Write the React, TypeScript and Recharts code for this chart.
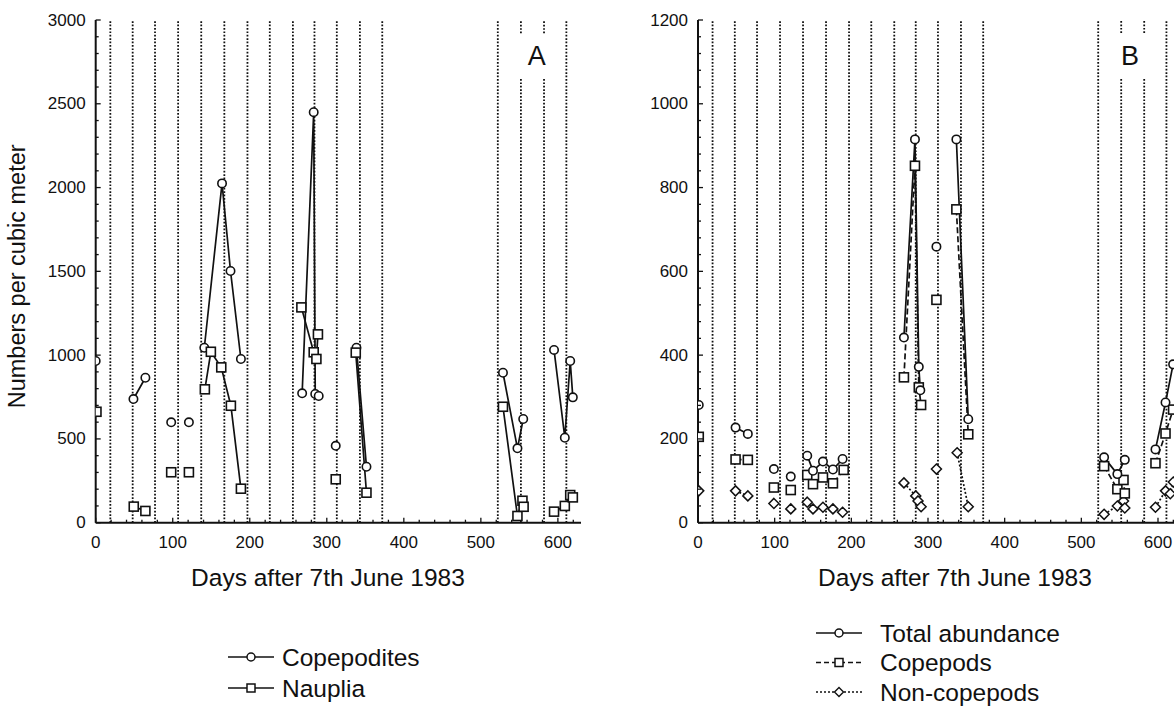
import React from 'react';
import { LineChart, Line, XAxis, YAxis, ReferenceLine, ReferenceArea, Label } from 'recharts';

// ---------- shared ----------
const samplingDays = [19, 48, 77, 107, 137, 167, 197, 226, 256, 284, 313, 343, 372, 522, 552, 582, 611];
const xLabelTicks = [0, 100, 200, 300, 400, 500, 600];
const xMinorStep = 20;
const xDomain = [0, 630];

// ---------- panel A ----------
const copepoditesDays = [0, 49, 64.5, 98, 121, 141, 164, 175, 188.5, 268, 283, 285, 289.5, 311.6, 338.5, 351.5, 528.7, 547.5, 555, 595, 609, 616, 619.4];
const copepodites = [965, 738, 865, 599, 599, 1044, 2025, 1502, 977, 772, 2450, 768, 756, 459, 1044, 334, 895, 444, 619, 1031, 507, 965, 748];
const copepoditesGroups = [0, 1, 1, 2, 3, 4, 4, 4, 4, 5, 5, 5, 5, 6, 7, 7, 8, 8, 8, 9, 9, 9, 9];

const naupliaDays = [1, 49.4, 64.5, 98, 121, 141.7, 149.5, 163, 175.5, 188.5, 267, 283, 286.5, 288.5, 311.6, 337.6, 351.5, 528.7, 547.5, 554, 555.5, 595, 609, 616, 619.4];
const nauplia = [662, 96, 70, 301, 301, 796, 1020, 927, 698, 203, 1285, 1017, 977, 1124, 259, 1015, 179, 692, 40, 131, 95, 66, 100, 165, 151];
const naupliaGroups = [0, 1, 1, 2, 3, 4, 4, 4, 4, 4, 5, 5, 5, 5, 6, 7, 7, 8, 8, 8, 8, 9, 9, 9, 9];

const yTicksA = [0, 500, 1000, 1500, 2000, 2500, 3000];
const yMinorA = 100;

// ---------- panel B ----------
const totalDays = [1, 49, 65, 99, 121, 142.5, 150, 163, 176, 188.6, 268.6, 283, 288, 290, 311, 337, 352.5, 529.7, 547, 556.7, 596.7, 609.8, 619.7];
const totalAbundance = [281, 227, 212, 128, 110, 160, 124, 146, 127, 152, 442, 915, 372, 316, 659, 915, 247, 156, 116, 150, 175, 287, 378];
const totalGroups = [0, 1, 1, 2, 3, 4, 4, 4, 4, 4, 5, 5, 5, 5, 6, 7, 7, 8, 8, 8, 9, 9, 9];

const copepodsDays = [1, 49, 65, 99, 121, 142.5, 150, 163, 176, 190, 268.6, 283, 288, 291, 311, 337, 352.5, 529.7, 547, 555, 556.7, 596.7, 609.8, 619.7];
const copepods = [205, 151, 150, 84, 78, 114, 92, 108, 94, 126, 347, 852, 323, 281, 532, 748, 211, 135, 80, 102, 70, 142, 213, 270];
const copepodsGroups = [0, 1, 1, 2, 3, 4, 4, 4, 4, 4, 5, 5, 5, 5, 6, 7, 7, 8, 8, 8, 8, 9, 9, 9];

const nonCopepodsDays = [1, 49, 65, 99, 121, 142.5, 150, 163, 176, 188.6, 268.6, 284, 287, 291, 311, 338, 352.5, 529.7, 547, 555, 556.7, 596.7, 609.8, 616, 620];
const nonCopepods = [76, 76, 64, 46, 33, 49, 33, 37, 33, 25, 95, 64, 52, 38, 128, 167, 38, 20, 40, 52, 35, 37, 76, 69, 97];
const nonCopepodsGroups = [0, 1, 1, 2, 3, 4, 4, 4, 4, 4, 5, 5, 5, 5, 6, 7, 7, 8, 8, 8, 8, 9, 9, 9, 9];

const yTicksB = [0, 200, 400, 600, 800, 1000, 1200];
const yMinorB = 40;

// ---------- helpers ----------
const FONT = '"Liberation Sans", Arial, Helvetica, sans-serif';
const INK = '#111111';
const GRID_STYLE = { stroke: '#111111', strokeWidth: 1.8, strokeDasharray: '1.7 1.7' };

function buildSeries(days: number[], values: number[], groups: number[]) {
  const out: { d: number; v: number | null }[] = [];
  for (let i = 0; i < days.length; i++) {
    if (i > 0 && groups[i] !== groups[i - 1]) {
      out.push({ d: (days[i] + days[i - 1]) / 2, v: null });
    }
    out.push({ d: days[i], v: values[i] });
  }
  return out;
}

function range(max: number, step: number) {
  const r: number[] = [];
  for (let v = 0; v <= max + 1e-9; v += step) r.push(v);
  return r;
}

const xTicks = range(620, xMinorStep);

const CircleDot = (p: any) => {
  const { cx, cy, payload, index } = p;
  if (cx == null || cy == null || payload == null || payload.v == null) return <g key={`c${index}`} />;
  return <circle key={`c${index}`} cx={cx} cy={cy} r={4.2} fill="#fff" stroke={INK} strokeWidth={1.6} />;
};
const SquareDot = (p: any) => {
  const { cx, cy, payload, index } = p;
  if (cx == null || cy == null || payload == null || payload.v == null) return <g key={`s${index}`} />;
  return <rect key={`s${index}`} x={cx - 4.5} y={cy - 4.5} width={9} height={9} fill="#fff" stroke={INK} strokeWidth={1.6} />;
};
const DiamondDot = (p: any) => {
  const { cx, cy, payload, index } = p;
  if (cx == null || cy == null || payload == null || payload.v == null) return <g key={`d${index}`} />;
  return (
    <polygon key={`d${index}`} points={`${cx},${cy - 5} ${cx + 5},${cy} ${cx},${cy + 5} ${cx - 5},${cy}`} fill="#fff" stroke={INK} strokeWidth={1.5} />
  );
};

const makeBottomTick = (labels: number[]) => (p: any) => {
  const { x, y, payload } = p;
  const major = labels.includes(payload.value);
  return (
    <g>
      <line x1={x} x2={x} y1={y} y2={y - (major ? 5 : 3)} stroke={INK} strokeWidth={1.3} />
      {major && (
        <text x={x} y={y + 20} textAnchor="middle" dominantBaseline="central" fontSize={17} fontFamily={FONT} fill={INK}>
          {payload.value}
        </text>
      )}
    </g>
  );
};
const TopTick = (p: any) => {
  const { x, y } = p;
  return <line x1={x} x2={x} y1={y} y2={y + 3} stroke={INK} strokeWidth={1.3} />;
};
const makeLeftTick = (labels: number[]) => (p: any) => {
  const { x, y, payload } = p;
  const major = labels.includes(payload.value);
  return (
    <g>
      <line x1={x} x2={x + (major ? 5 : 3)} y1={y} y2={y} stroke={INK} strokeWidth={1.3} />
      {major && (
        <text x={x - 10} y={y} textAnchor="end" dominantBaseline="central" fontSize={17} fontFamily={FONT} fill={INK}>
          {payload.value}
        </text>
      )}
    </g>
  );
};
const RightTick = (p: any) => {
  const { x, y } = p;
  return <line x1={x} x2={x - 3} y1={y} y2={y} stroke={INK} strokeWidth={1.3} />;
};

type LegendItem = { name: string; dash?: string; marker: 'circle' | 'square' | 'diamond' };

const LegendBox = ({ items, rowGap, textX, left, top }: { items: LegendItem[]; rowGap: number; textX: number; left: number; top: number }) => (
  <svg width={360} height={items.length * rowGap + 14} style={{ position: 'absolute', left, top, overflow: 'visible' }}>
    {items.map((it, i) => {
      const y = 14 + i * rowGap;
      const mx = 31;
      return (
        <g key={it.name}>
          <line x1={8} x2={54} y1={y} y2={y} stroke={INK} strokeWidth={1.6} strokeDasharray={it.dash} />
          {it.marker === 'circle' && <circle cx={mx} cy={y} r={4} fill="#fff" stroke={INK} strokeWidth={1.5} />}
          {it.marker === 'square' && <rect x={mx - 4} y={y - 4} width={8} height={8} fill="#fff" stroke={INK} strokeWidth={1.5} />}
          {it.marker === 'diamond' && (
            <polygon points={`${mx},${y - 4.5} ${mx + 4.5},${y} ${mx},${y + 4.5} ${mx - 4.5},${y}`} fill="#fff" stroke={INK} strokeWidth={1.4} />
          )}
          <text x={textX} y={y} dominantBaseline="central" fontSize={24.5} fontFamily={FONT} fill={INK}>
            {it.name}
          </text>
        </g>
      );
    })}
  </svg>
);

const CHART_W = 600;
const CHART_H = 719;
const MARGIN = { top: 20, right: 19, bottom: 166.3, left: 0 };

function Panel(props: {
  leftOffset: number;
  yMax: number;
  yLabels: number[];
  yMinor: number;
  panelLabel: string;
  labelBox: { x1: number; x2: number; y1: number; y2: number };
  series: { name: string; data: { d: number; v: number | null }[]; dash?: string; dot: any }[];
  yTitle?: string;
  xTitleCenter: number;
}) {
  const yTicks = range(props.yMax, props.yMinor);
  const lb = props.labelBox;
  return (
    <LineChart width={CHART_W} height={CHART_H} margin={{ ...MARGIN, left: props.leftOffset - 60 }}>
      <XAxis
        dataKey="d"
        type="number"
        domain={xDomain}
        ticks={xTicks}
        interval={0}
        allowDataOverflow
        tickSize={0}
        tickMargin={0}
        tickLine={false}
        tick={makeBottomTick(xLabelTicks)}
        axisLine={{ stroke: INK, strokeWidth: 2 }}
        height={30}
      >
        <Label
          content={() => (
            <text x={props.xTitleCenter} y={577} textAnchor="middle" dominantBaseline="central" fontSize={24.5} fontFamily={FONT} fill={INK}>
              Days after 7th June 1983
            </text>
          )}
        />
      </XAxis>
      <XAxis
        xAxisId="top"
        orientation="top"
        dataKey="d"
        type="number"
        domain={xDomain}
        ticks={xTicks}
        interval={0}
        allowDataOverflow
        tickSize={0}
        tickMargin={0}
        tickLine={false}
        tick={TopTick}
        axisLine={{ stroke: INK, strokeWidth: 2 }}
        height={0}
      />
      <YAxis
        type="number"
        domain={[0, props.yMax]}
        ticks={yTicks}
        interval={0}
        allowDataOverflow
        tickSize={0}
        tickMargin={0}
        tickLine={false}
        tick={makeLeftTick(props.yLabels)}
        axisLine={{ stroke: INK, strokeWidth: 2 }}
        width={60}
      >
        {props.yTitle ? (
          <Label
            content={(lp: any) => {
              const vb = lp.viewBox || {};
              const x = (vb.x ?? 0) + (vb.width ?? 0) - 79;
              const y = (vb.y ?? 0) + (vb.height ?? 0) / 2 + 5;
              return (
                <text x={x} y={y} transform={`rotate(-90, ${x}, ${y})`} textAnchor="middle" dominantBaseline="central" fontSize={23.5} fontFamily={FONT} fill={INK}>
                  {props.yTitle}
                </text>
              );
            }}
          />
        ) : null}
      </YAxis>
      <YAxis
        yAxisId="right"
        orientation="right"
        type="number"
        domain={[0, props.yMax]}
        ticks={yTicks}
        interval={0}
        allowDataOverflow
        tickSize={0}
        tickMargin={0}
        tickLine={false}
        tick={RightTick}
        axisLine={{ stroke: INK, strokeWidth: 2 }}
        width={0}
      />
      {samplingDays.map((d) => {
        const inBox = d > lb.x1 && d < lb.x2;
        if (!inBox) {
          return <ReferenceLine key={`rl${d}`} x={d} {...GRID_STYLE} ifOverflow="hidden" />;
        }
        return [
          <ReferenceLine key={`rla${d}`} segment={[{ x: d, y: 0 }, { x: d, y: lb.y1 }]} {...GRID_STYLE} />,
          <ReferenceLine key={`rlb${d}`} segment={[{ x: d, y: lb.y2 }, { x: d, y: props.yMax }]} {...GRID_STYLE} />,
        ];
      })}
      <ReferenceArea
        x1={lb.x1}
        x2={lb.x2}
        y1={lb.y1}
        y2={lb.y2}
        fill="#fff"
        fillOpacity={0}
        stroke="none"
        ifOverflow="hidden"
        label={{ value: props.panelLabel, position: 'center', fontSize: 27, fill: INK, fontFamily: FONT }}
      />
      {props.series.map((s) => (
        <Line
          key={s.name}
          data={s.data}
          dataKey="v"
          name={s.name}
          type="linear"
          stroke={INK}
          strokeWidth={1.7}
          strokeDasharray={s.dash}
          connectNulls={false}
          dot={s.dot}
          activeDot={false}
          isAnimationActive={false}
          legendType="none"
        />
      ))}
    </LineChart>
  );
}

export default function App() {
  const seriesA = [
    { name: 'Copepodites', data: buildSeries(copepoditesDays, copepodites, copepoditesGroups), dot: CircleDot },
    { name: 'Nauplia', data: buildSeries(naupliaDays, nauplia, naupliaGroups), dot: SquareDot },
  ];
  const seriesB = [
    { name: 'Non-copepods', data: buildSeries(nonCopepodsDays, nonCopepods, nonCopepodsGroups), dash: '2 2', dot: DiamondDot },
    { name: 'Copepods', data: buildSeries(copepodsDays, copepods, copepodsGroups), dash: '6 3', dot: SquareDot },
    { name: 'Total abundance', data: buildSeries(totalDays, totalAbundance, totalGroups), dot: CircleDot },
  ];
  return (
    <div style={{ position: 'fixed', left: 0, top: 0, width: 1174, height: 719, overflow: 'hidden', background: '#fff' }}>
      <div style={{ position: 'absolute', left: 0, top: 0 }}>
        <Panel
          leftOffset={95.7}
          yMax={3000}
          yLabels={yTicksA}
          yMinor={yMinorA}
          panelLabel="A"
          labelBox={{ x1: 540, x2: 605, y1: 2654, y2: 2921 }}
          series={seriesA}
          yTitle="Numbers per cubic meter"
          xTitleCenter={328}
        />
      </div>
      <div style={{ position: 'absolute', left: 600, top: 0 }}>
        <Panel
          leftOffset={98}
          yMax={1200}
          yLabels={yTicksB}
          yMinor={yMinorB}
          panelLabel="B"
          labelBox={{ x1: 535, x2: 592, y1: 1061, y2: 1169 }}
          series={seriesB}
          xTitleCenter={355}
        />
      </div>
      <LegendBox
        items={[
          { name: 'Copepodites', marker: 'circle' },
          { name: 'Nauplia', marker: 'square' },
        ]}
        rowGap={31}
        textX={62}
        left={220}
        top={643}
      />
      <LegendBox
        items={[
          { name: 'Total abundance', marker: 'circle' },
          { name: 'Copepods', dash: '5 3', marker: 'square' },
          { name: 'Non-copepods', dash: '2 2', marker: 'diamond' },
        ]}
        rowGap={29.5}
        textX={72}
        left={808}
        top={619}
      />
    </div>
  );
}
